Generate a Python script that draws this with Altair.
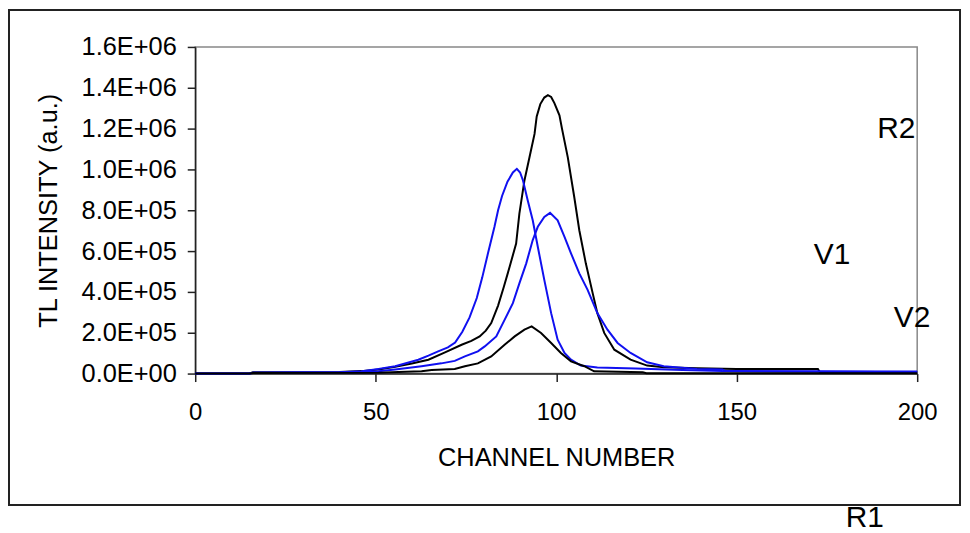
import altair as alt
import pandas as pd

# ---- data ----
ch_R2 = [0, 15, 16, 40, 46, 50.8, 55.4, 60, 64.6, 69.2, 73.8, 76.5, 78.8, 80.5, 82.0, 83.9, 85.5, 87.1,
         88.9, 89.8, 91.2, 92.6, 94.0, 94.6, 95.6, 96.7, 97.7, 98.6, 99.5, 100.9, 101.6, 103.2, 105.0,
         106.4, 108.2, 110.1, 111.4, 113.3, 116.1, 120.6, 125.2, 129.8, 139, 150, 172.5, 173, 200]
val_R2 = [0, 0, 6e3, 8e3, 12e3, 20e3, 33e3, 49e3, 68e3, 104e3, 141e3, 160e3, 182e3, 210e3, 247e3,
          333e3, 425e3, 523e3, 637e3, 784e3, 946e3, 1.06e6, 1.174e6, 1.26e6, 1.32e6, 1.352e6, 1.364e6,
          1.355e6, 1.325e6, 1.265e6, 1.2e6, 1.06e6, 865e3, 702e3, 540e3, 394e3, 296e3, 199e3, 117e3,
          68e3, 39e3, 31e3, 26e3, 22e3, 22e3, 8e3, 8e3]

ch_V1 = [0, 15, 16, 40, 46.2, 50.8, 55.4, 61.8, 64.6, 67.3, 70.0, 72.0, 74.0, 76.0, 78.0, 79.5, 81.1,
         82.9, 83.9, 85.0, 86.5, 88.0, 89.1, 90.0, 90.8, 92.1, 93.5, 94.9, 96.7, 98.6, 100.4, 102.3,
         104.1, 106.8, 111.4, 122, 135, 146, 200]
val_V1 = [0, 0, 4e3, 6e3, 11e3, 23e3, 36e3, 68e3, 88e3, 109e3, 128e3, 152e3, 205e3, 275e3, 370e3,
          470e3, 589e3, 719e3, 800e3, 870e3, 940e3, 985e3, 1.003e6, 985e3, 946e3, 849e3, 751e3, 621e3,
          459e3, 296e3, 166e3, 101e3, 68e3, 39e3, 30e3, 25e3, 18e3, 12e3, 7e3]

ch_V2 = [0, 15, 16, 45, 50.8, 55.4, 62.7, 68.2, 71.9, 74.7, 78.3, 80.2, 83.4, 85.7, 88.0, 89.8, 91.7,
         93.5, 94.9, 96.7, 98.3, 100.4, 102.3, 104.1, 106.4, 108.7, 111.4, 114.2, 117.0, 120.6, 125.2,
         129.8, 139, 146, 147, 200]
val_V2 = [0, 0, 4e3, 6e3, 11e3, 20e3, 36e3, 50e3, 62e3, 84e3, 109e3, 133e3, 182e3, 263e3, 345e3,
          442e3, 540e3, 654e3, 719e3, 767e3, 787e3, 751e3, 670e3, 589e3, 491e3, 410e3, 296e3, 215e3,
          150e3, 101e3, 55e3, 36e3, 23e3, 20e3, 12e3, 10e3]

ch_R1 = [0, 15, 16, 50.8, 56.3, 62.7, 65.5, 71.9, 74.7, 78.3, 82.0, 85.7, 88.5, 91.2, 93.2, 95.8, 98.6,
         101.3, 104.1, 107.8, 110.5, 124, 125, 200]
val_R1 = [0, 0, 3e3, 4e3, 8e3, 11e3, 18e3, 22e3, 36e3, 50e3, 84e3, 141e3, 182e3, 215e3, 231e3, 199e3,
          150e3, 101e3, 60e3, 36e3, 11e3, 6e3, 2e3, 2e3]

series_names = ["R2", "V1", "V2", "R1"]
series_colors = ["#000000", "#1010f0", "#1010f0", "#000000"]

x_ticks = [0, 50, 100, 150, 200]
y_ticks = [0, 200000, 400000, 600000, 800000, 1000000, 1200000, 1400000, 1600000]
y_tick_labels = ["0.0E+00", "2.0E+05", "4.0E+05", "6.0E+05", "8.0E+05",
                 "1.0E+06", "1.2E+06", "1.4E+06", "1.6E+06"]

ann_labels = ["R2", "V1", "V2", "R1"]
ann_channel = [194.2, 176.4, 198.6, 185.5]
ann_intensity = [1.2e6, 0.58e6, 0.27e6, -0.71e6]

# ---- build tables ----
rows = []
for name, chs, vals in [("R2", ch_R2, val_R2), ("V1", ch_V1, val_V1),
                        ("V2", ch_V2, val_V2), ("R1", ch_R1, val_R1)]:
    for i, (c, v) in enumerate(zip(chs, vals)):
        rows.append({"series": name, "channel": c, "intensity": v, "idx": i})
df = pd.DataFrame(rows)
ann_df = pd.DataFrame({"label": ann_labels, "channel": ann_channel, "intensity": ann_intensity})

label_expr = ""
for v, t in zip(y_ticks, y_tick_labels):
    label_expr += f"abs(datum.value - {v}) < 1 ? '{t}' : "
label_expr += "''"

W, H = 725, 328
FONT = "Liberation Sans"

x_scale = alt.Scale(domain=[0, 200], nice=False, zero=False)
y_scale = alt.Scale(domain=[0, 1.6e6], nice=False)

lines = alt.Chart(df).mark_line(strokeWidth=2).encode(
    x=alt.X("channel:Q", scale=x_scale,
            axis=alt.Axis(values=x_ticks, format="d", title="CHANNEL NUMBER",
                          labelFlush=False, labelFontSize=24, labelBaseline="alphabetic",
                          labelPadding=38, titleX=W / 2, titleY=92, titleBaseline="alphabetic",
                          titleAlign="center", titleFontSize=25.5)),
    y=alt.Y("intensity:Q", scale=y_scale,
            axis=alt.Axis(values=y_ticks, labelExpr=label_expr, title="TL INTENSITY (a.u.)",
                          labelFontSize=25.5, labelPadding=11, titleX=-139, titleY=H / 2,
                          titleAngle=-90, titleBaseline="alphabetic", titleAlign="center",
                          titleFontSize=25.5)),
    color=alt.Color("series:N", scale=alt.Scale(domain=series_names, range=series_colors),
                    legend=None),
    order="idx:Q",
)

ann = alt.Chart(ann_df).mark_text(font=FONT, fontSize=30, align="center", baseline="middle",
                                  color="black").encode(
    x=alt.X("channel:Q", scale=x_scale),
    y=alt.Y("intensity:Q", scale=y_scale),
    text="label:N",
)

frame = alt.Chart(pd.DataFrame({"a": [0]})).mark_rect(
    fillOpacity=0, stroke="#222222", strokeWidth=2
).encode(
    x=alt.value(-187), x2=alt.value(768), y=alt.value(-37), y2=alt.value(460)
)

chart = alt.layer(frame, lines, ann).properties(
    width=W, height=H,
    autosize=alt.AutoSizeParams(type="none"),
    padding={"left": 188, "top": 38, "right": 45, "bottom": 159},
).configure_axis(
    labelFont=FONT, titleFont=FONT, labelColor="black", titleColor="black",
    titleFontWeight="normal", domainColor="#222222", tickColor="#222222",
    domainWidth=1.5, tickWidth=1.5, tickSize=8, grid=False, labelOverlap=False,
).configure_view(
    stroke="#888888", strokeWidth=1.5
)

chart.save("out.html", embed_options={"renderer": "svg", "actions": False})
